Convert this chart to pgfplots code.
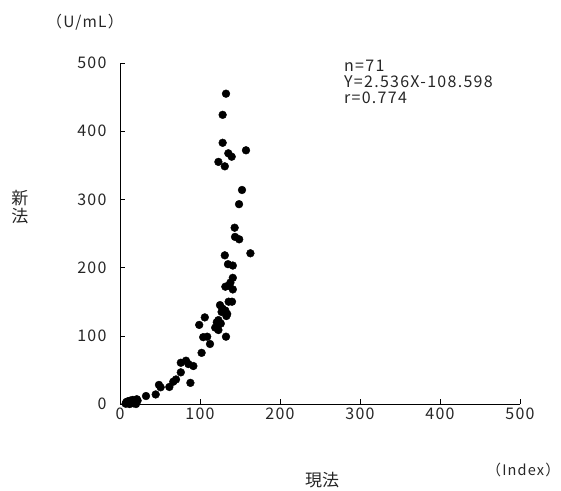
\documentclass[border=0pt]{standalone}
\usepackage{pgfplots}
\pgfplotsset{compat=1.18}
\usepackage{fontspec}
\setmainfont{Noto Sans CJK JP}
\newfontfamily\wide[LetterSpace=8]{Noto Sans CJK JP}

\begin{document}
\begin{tikzpicture}[x=1pt,y=1pt]
\path[use as bounding box] (-120,-86) rectangle (441,404);
\begin{axis}[
  scale only axis,
  width=400pt, height=341pt,
  xmin=0, xmax=500, ymin=0, ymax=500,
  axis lines=left,
  axis line style={-, line width=0.8pt},
  xtick={0,100,...,500}, ytick={0,100,...,500},
  tick align=inside,
  major tick length=5pt,
  tick style={black, line width=0.6pt},
  /pgf/number format/assume math mode=true,
  tick label style={font=\wide\fontsize{16}{18}\selectfont, text=black!85},
  xticklabel style={yshift=0pt},
  yticklabel style={xshift=-10pt},
  clip=false,
]
% 新法 (U/mL) against 現法 (Index)
\addplot[only marks, mark=*, mark size=3.9pt, black] coordinates {
 (132.5,455) (128.3,424) (128.3,383) (135.4,367.6) (139.6,362.6) (157.5,372)
 (123,355) (131,348.5) (152.5,313.8) (148.8,293) (143.3,258.5) (143.8,245)
 (149,241.5) (131,218) (163,221) (135,205) (141,203) (141,185)
 (131.7,172) (135.8,173.5) (141,168) (125,145) (135.8,150) (128,140)
 (131.7,137) (133,129) (123,123) (119,112) (123,108.5) (106,127)
 (99,116) (112.5,88) (104,98) (109,98.7) (132.5,98.7) (102,75)
 (76,60.5) (82.5,63.5) (85.5,58.6) (91.7,55.7) (76,46.4) (70,36)
 (66.6,32.7) (88,31) (61.7,25) (48.7,28) (50.8,24.5) (44.6,14)
 (32.5,11.7) (21,7) (19,4) (17,1) (15,3) (13,5) (11,2) (9,1) (7,0.5)
 (20,0) (16,6) (12,0) (18,2) (10,4) (14,1) (22,5) (8,3)
 (127,135) (138,178) (126,118) (140,150) (134,132) (121,120)
};
\end{axis}
\begin{scope}[text=black!85]
\node[font=\wide\fontsize{15.5}{18}\selectfont] at (-35,382) {（U/mL）};
\node[font=\fontsize{17}{19}\selectfont, align=center, inner sep=0pt] at (-100,197) {新\\[-1pt]法};
\node[font=\fontsize{17}{19}\selectfont] at (202,-76) {現法};
\node[font=\wide\fontsize{14.5}{17}\selectfont, anchor=east, inner sep=0pt] at (440,-66) {（Index）};
\node[font=\wide\fontsize{16}{16}\selectfont, anchor=north west, align=left, inner sep=0pt] at (224,344)
  {n=71\\Y=2.536X-108.598\\r=0.774};
\end{scope}
\end{tikzpicture}
\end{document}
